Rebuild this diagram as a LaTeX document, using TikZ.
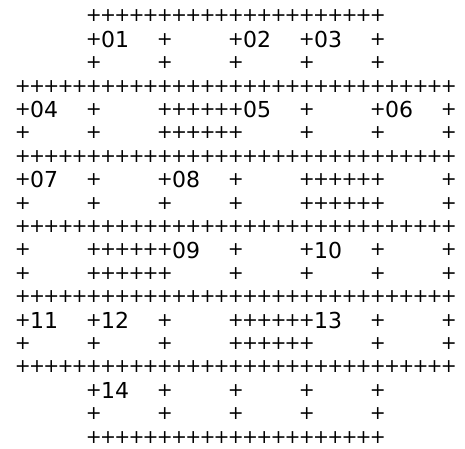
\documentclass[tikz,border=0pt]{standalone}
\usepackage{fontspec}
\setmainfont{DejaVu Sans}
\usepackage{tikz}

\begin{document}
\begin{tikzpicture}[
    x=14.2pt, y=-23.4pt,
    pluschar/.style={
        inner sep=0pt,
        anchor=center,
        font=\fontsize{19}{19}\selectfont
    },
    cellnum/.style={
        inner sep=0pt,
        anchor=center,
        font=\fontsize{22}{22}\selectfont
    }
]
\useasboundingbox (-1.613,-0.684) rectangle (31.134,18.462);

% Plus signs, line by line
\foreach \L/\cols in {
    0/{5,...,25},
    1/{5,10,...,25},
    2/{5,10,...,25},
    3/{0,...,30},
    4/{0,5,10,11,12,13,14,15,20,25,30},
    5/{0,5,10,11,12,13,14,15,20,25,30},
    6/{0,...,30},
    7/{0,5,10,15,20,21,22,23,24,25,30},
    8/{0,5,10,15,20,21,22,23,24,25,30},
    9/{0,...,30},
    10/{0,5,6,7,8,9,10,15,20,25,30},
    11/{0,5,6,7,8,9,10,15,20,25,30},
    12/{0,...,30},
    13/{0,5,10,15,16,17,18,19,20,25,30},
    14/{0,5,10,15,16,17,18,19,20,25,30},
    15/{0,...,30},
    16/{5,10,...,25},
    17/{5,10,...,25},
    18/{5,...,25}}
    \foreach \c in \cols
        \node[pluschar] (p-\L-\c) at (\c,\L) {+};

% Cell numbers
\foreach \n/\c/\L in {01/6/1, 02/16/1, 03/21/1,
                      04/1/4, 05/16/4, 06/26/4,
                      07/1/7, 08/11/7,
                      09/11/10, 10/21/10,
                      11/1/13, 12/6/13, 13/21/13,
                      14/6/16}
    \node[cellnum] (n\n) at (\c+0.5,\L) {\n};

\end{tikzpicture}
\end{document}
